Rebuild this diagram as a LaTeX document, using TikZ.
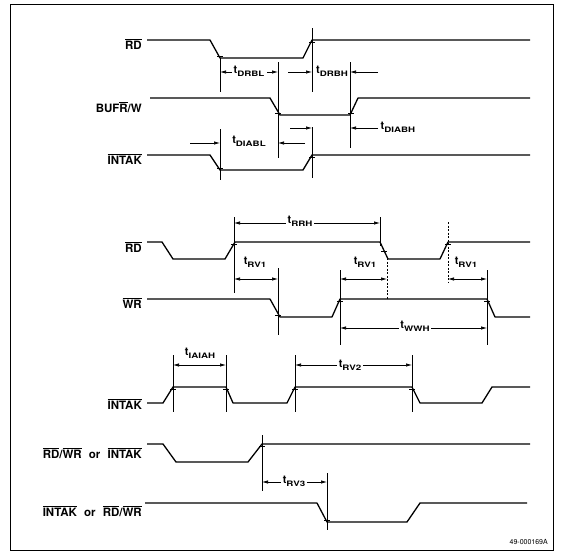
\documentclass[tikz,border=0pt]{standalone}
\usepackage{fontspec}
\usepackage{graphicx}
\setmainfont{TeX Gyre Heros}
\usetikzlibrary{arrows.meta}
\newcommand{\ovl}[1]{\leavevmode\vbox{\hrule height 0.9pt\kern 1.1pt\hbox{#1}}}
\newcommand{\tsub}[1]{t\raisebox{-0.5ex}{\scalebox{1.3}[1]{\fontsize{7.5}{8}\selectfont #1}}}
\begin{document}
\begin{tikzpicture}[x=1pt,y=-1pt,
  sig/.style={line width=1.3pt, line join=round},
  guide/.style={line width=0.7pt},
  dim/.style={line width=0.7pt,-{Latex[length=6pt,width=3.4pt]}},
  dimb/.style={line width=0.7pt,{Latex[length=6pt,width=3.4pt]}-{Latex[length=6pt,width=3.4pt]}},
  lab/.style={font=\fontsize{11.5}{13}\selectfont\bfseries, anchor=east, inner sep=0pt},
  tlab/.style={font=\fontsize{11}{13}\selectfont\bfseries, inner sep=1.5pt},
  crossmk/.style={line width=0.8pt}
]
\useasboundingbox (0,0) rectangle (563,555);
\draw[line width=1pt] (10,4) rectangle (553,550);

% ---------------- Section 1 ----------------
\node[lab] (l1) at (142,44) {\ovl{RD}};
\node[lab] (l2) at (142,107) {BUF\ovl{R}/W};
\node[lab] (l3) at (142,159) {\ovl{INTAK}};

\draw[sig] (147,40) -- (210,40) -- (220,58) -- (303,58) -- (312,40) -- (530,40);
\draw[sig] (150,98) -- (270,98) -- (280,115) -- (350,115) -- (358,98) -- (530,98);
\draw[sig] (147,155) -- (210,155) -- (220,170) -- (303,170) -- (312,155) -- (530,155);

\draw[guide] (220,58) -- (220,92);
\draw[guide] (312,28) -- (312,92);
\draw[guide] (278,62) -- (278,158);
\draw[guide] (350,62) -- (350,148);
\draw[guide] (220,129) -- (220,180);
\draw[guide] (312,127) -- (312,178);

\node[tlab] (tdrbl) at (249,71) {\tsub{DRBL}};
\draw[dim] (232,72) -- (220,72);
\draw[dim] (267,72) -- (278,72);
\node[tlab] (tdrbh) at (332,71) {\tsub{DRBH}};
\draw[dim] (288,72) -- (312,72);
\draw[dim] (378,72) -- (350,72);

\draw[dim] (290,128) -- (312,128);
\draw[dim] (378,128) -- (350,128);
\node[tlab,anchor=west] (tdiabh) at (379,127) {\tsub{DIABH}};

\draw[dim] (190,143) -- (220,143);
\node[tlab] (tdiabl) at (249,141) {\tsub{DIABL}};
\draw[dim] (305,143) -- (278,143);

\foreach \p in {(220,56),(312,42),(278,113),(351,113),(220,168),(312,157)}
  \draw[crossmk] \p ++(-3,0) -- ++(6,0);

% ---------------- Section 2 ----------------
\node[lab] (l4) at (142,247) {\ovl{RD}};
\node[lab] (l5) at (142,303) {\ovl{WR}};

\draw[sig] (147,242) -- (162,242) -- (173,259) -- (225,259) -- (235,242) -- (380,242) -- (388,259) -- (440,259) -- (448,242) -- (530,242);
\draw[sig] (147,299) -- (270,299) -- (280,317) -- (332,317) -- (340,299) -- (487,299) -- (495,317) -- (530,317);

\draw[guide] (234,217) -- (234,293);
\draw[guide] (380,217) -- (380,246);
\draw[guide] (278,268) -- (278,335);
\draw[guide,dash pattern=on 2pt off 1.5pt] (387,258) -- (387,300);
\draw[guide,dash pattern=on 2pt off 1.5pt] (448,222) -- (448,283);
\draw[guide] (340,270) -- (340,345);
\draw[guide] (487,270) -- (487,345);

\node[tlab,fill=white] (trrh) at (300,221) {\tsub{RRH}};
\draw[dim] (trrh.west |- 0,223) -- (234,223);
\draw[dim] (trrh.east |- 0,223) -- (380,223);

\node[tlab] (trv1a) at (255,262) {\tsub{RV1}};
\draw[dimb] (234,279) -- (278,279);
\node[tlab] (trv1b) at (365,262) {\tsub{RV1}};
\draw[dimb] (340,279) -- (387,279);
\node[tlab] (trv1c) at (466,262) {\tsub{RV1}};
\draw[dimb] (448,279) -- (487,279);

\node[tlab,fill=white] (twwh) at (415,326) {\tsub{WWH}};
\draw[dim] (twwh.west |- 0,328) -- (340,328);
\draw[dim] (twwh.east |- 0,328) -- (487,328);

\foreach \p in {(234,244),(384,251),(448,244),(278,315),(340,301),(487,301)}
  \draw[crossmk] \p ++(-3,0) -- ++(6,0);

% ---------------- Section 3 ----------------
\node[lab] (l6) at (142,404) {\ovl{INTAK}};
\node[lab] (l7) at (142,453) {\ovl{RD}/\ovl{WR}\hspace{4pt} or\hspace{4pt} \ovl{INTAK}};
\node[lab] (l8) at (142,511) {\ovl{INTAK}\hspace{4pt} or\hspace{4pt} \ovl{RD}/\ovl{WR}};

\draw[sig] (147,403) -- (163,403) -- (173,387) -- (226,387) -- (233,403) -- (287,403) -- (295,387) -- (412,387) -- (420,403) -- (482,403) -- (492,387) -- (530,387);
\draw[sig] (147,444) -- (163,444) -- (176,462) -- (248,462) -- (262,444) -- (530,444);
\draw[sig] (145,503) -- (317,503) -- (327,522) -- (407,522) -- (420,503) -- (527,503);

\foreach \x in {173,226,295,412}
  \draw[guide] (\x,355) -- (\x,412);
\node[tlab] (tiaiah) at (200,353) {\tsub{IAIAH}};
\draw[dimb] (173,365) -- (226,365);

\node[tlab,fill=white] (trv2) at (350,365) {\tsub{RV2}};
\draw[dim] (trv2.west |- 0,365) -- (295,365);
\draw[dim] (trv2.east |- 0,365) -- (412,365);

\draw[guide] (262,435) -- (262,491);
\draw[guide] (327,473) -- (327,530);
\node[tlab,fill=white] (trv3) at (294,481) {\tsub{RV3}};
\draw[dim] (trv3.west |- 0,482) -- (262,482);
\draw[dim] (trv3.east |- 0,482) -- (327,482);

\foreach \p in {(173,389),(226,389),(295,389),(412,389),(262,446),(327,520)}
  \draw[crossmk] \p ++(-3,0) -- ++(6,0);

\node[font=\fontsize{7}{8}\selectfont, anchor=east, inner sep=0pt] (foot) at (548,542) {49-000169A};
\end{tikzpicture}
\end{document}
